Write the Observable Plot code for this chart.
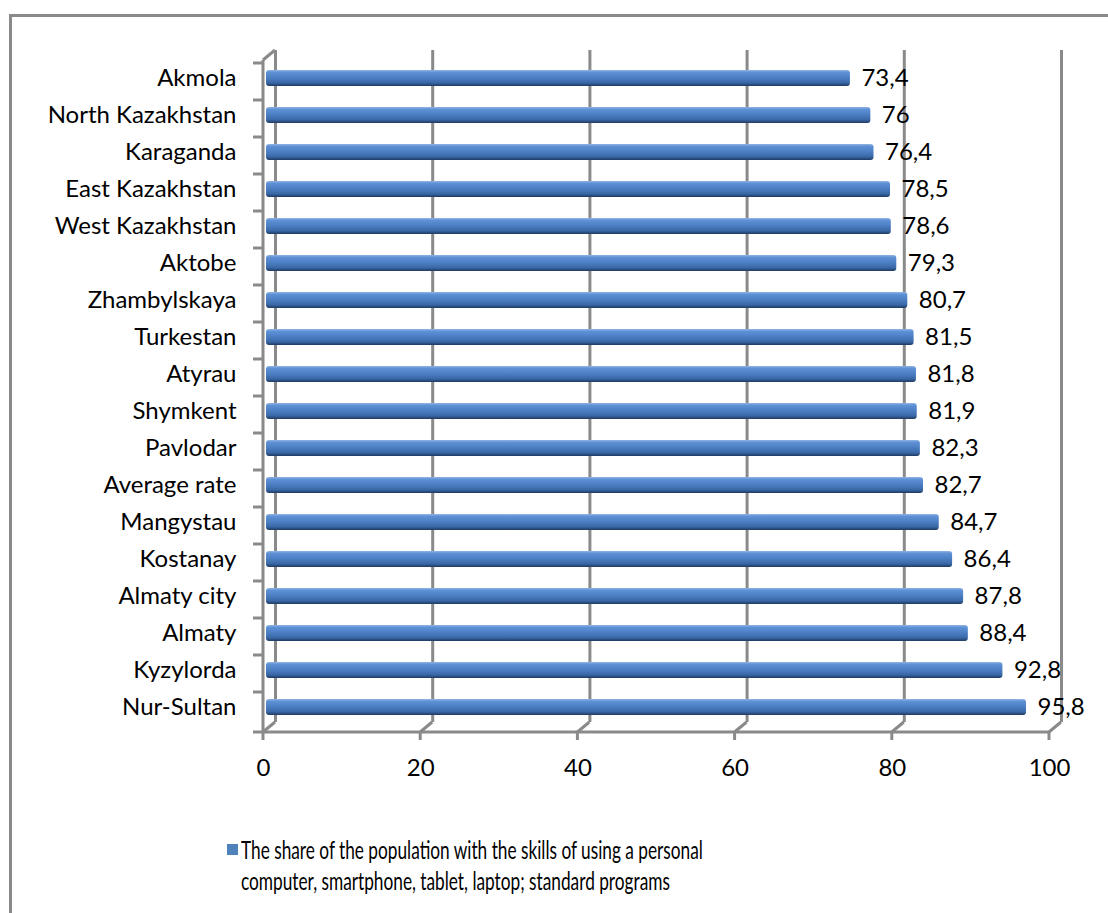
<!DOCTYPE html>
<html>
<head>
<meta charset="utf-8">
<script src="https://cdn.jsdelivr.net/npm/d3@7"></script>
<script src="https://cdn.jsdelivr.net/npm/@observablehq/plot@0.6"></script>
<style>
  html, body { margin: 0; padding: 0; background: #fff; overflow: hidden; }
  #wrap { position: relative; width: 1108px; height: 913px; }
  #chart { position: absolute; left: 0; top: 0; }
  #frame { position: absolute; left: 9px; top: 14px; width: 1300px; height: 1100px;
           border: 3px solid #8a8a8a; box-sizing: border-box; pointer-events: none; z-index: 5; }
  #legend { position: absolute; left: 227px; top: 834px; font-family: Lato, sans-serif;
            font-size: 25px; line-height: 31px; color: #000; }
  #legend .sw { position: absolute; left: 0; top: 10px; width: 11px; height: 11px; background: #4f81bd; }
  #legend .tx { position: absolute; left: 14px; top: 0; width: 710px;
                transform: scaleX(0.69); transform-origin: 0 0; }
</style>
</head>
<body>
<div id="wrap">
  <div id="chart"></div>
  <div id="legend"><div class="sw"></div><div class="tx"></div></div>
  <div id="frame"></div>
</div>
<script>
const regions = ["Akmola","North Kazakhstan","Karaganda","East Kazakhstan","West Kazakhstan","Aktobe","Zhambylskaya","Turkestan","Atyrau","Shymkent","Pavlodar","Average rate","Mangystau","Kostanay","Almaty city","Almaty","Kyzylorda","Nur-Sultan"];
const values = [73.4,76,76.4,78.5,78.6,79.3,80.7,81.5,81.8,81.9,82.3,82.7,84.7,86.4,87.8,88.4,92.8,95.8];
const xTicks = [0,20,40,60,80,100];
const seriesName = "The share of the population with the skills of using a personal computer, smartphone, tablet, laptop; standard programs";

const data = regions.map((r, i) => ({region: r, value: values[i]}));

const GRID = "#8a8a8a";
const FONT = "Lato, sans-serif";
const FS = 24;
const DX = 12, DY = 10; // 3D depth offset of the front frame

// front frame of the pseudo-3D chart: left wall edge, floor edge, ticks, connecting diagonals
const decor = (index, scales, vals, dims) => {
  const g = d3.create("svg:g").attr("stroke", GRID).attr("stroke-width", 3).attr("fill", "none");
  const yb = dims.height - dims.marginBottom, yt = dims.marginTop;
  const x0 = scales.x(0), x1 = scales.x(xTicks[xTicks.length - 1]);
  g.append("line").attr("x1", x0 - DX).attr("y1", yt + DY).attr("x2", x0 - DX).attr("y2", yb + DY);
  g.append("line").attr("x1", x0 - DX).attr("y1", yt + DY).attr("x2", x0).attr("y2", yt);
  g.append("line").attr("x1", x0 - DX - 10).attr("y1", yb + DY).attr("x2", x1 - DX).attr("y2", yb + DY);
  for (const r of regions) {
    const y = scales.y(r) + DY;
    g.append("line").attr("x1", x0 - DX - 10).attr("y1", y).attr("x2", x0 - DX).attr("y2", y);
  }
  for (const t of xTicks) {
    const xb = scales.x(t);
    g.append("line").attr("x1", xb).attr("y1", yb).attr("x2", xb - DX).attr("y2", yb + DY);
    g.append("line").attr("x1", xb - DX).attr("y1", yb + DY).attr("x2", xb - DX).attr("y2", yb + DY + 8);
  }
  return g.node();
};

const chart = Plot.plot({
  width: 1108,
  height: 800,
  marginTop: 50,
  marginBottom: 78,
  marginLeft: 275,
  marginRight: 47,
  style: {fontFamily: FONT, fontSize: FS + "px", background: "transparent"},
  x: {domain: [0, 100], axis: null},
  y: {domain: regions, padding: 0, axis: null},
  marks: [
    Plot.ruleX(xTicks, {x: d => d, stroke: GRID, strokeWidth: 3}),
    decor,
    Plot.barX(data, {y: "region", x: "value", fill: "url(#barGrad)",
      insetTop: 10.6, insetBottom: 10.6, insetLeft: -7, dx: -2, dy: 6.5, rx: 3}),
    Plot.text(data, {y: "region", x: "value", text: d => String(d.value).replace(".", ","),
      textAnchor: "start", dx: 9, dy: 6.5, fontSize: FS, fill: "#000"}),
    Plot.text(data, {y: "region", text: "region", frameAnchor: "left", textAnchor: "end",
      dx: -39, dy: 6.5, fontSize: FS, fill: "#000"}),
    Plot.text(xTicks, {x: d => d, text: d => String(d), frameAnchor: "bottom",
      dx: -DX, dy: 53, fontSize: FS, fill: "#000"})
  ]
});

const defs = d3.select(chart).insert("defs", ":first-child");
const grad = defs.append("linearGradient").attr("id", "barGrad")
  .attr("x1", 0).attr("y1", 0).attr("x2", 0).attr("y2", 1);
[[0, "#8fb3e3"], [0.15, "#5d90d4"], [0.5, "#4a7dc1"], [0.8, "#3a68a6"], [1, "#1f3b63"]]
  .forEach(([o, c]) => grad.append("stop").attr("offset", o).attr("stop-color", c));

document.getElementById("chart").appendChild(chart);
document.querySelector("#legend .tx").textContent = seriesName;
</script>
</body>
</html>
